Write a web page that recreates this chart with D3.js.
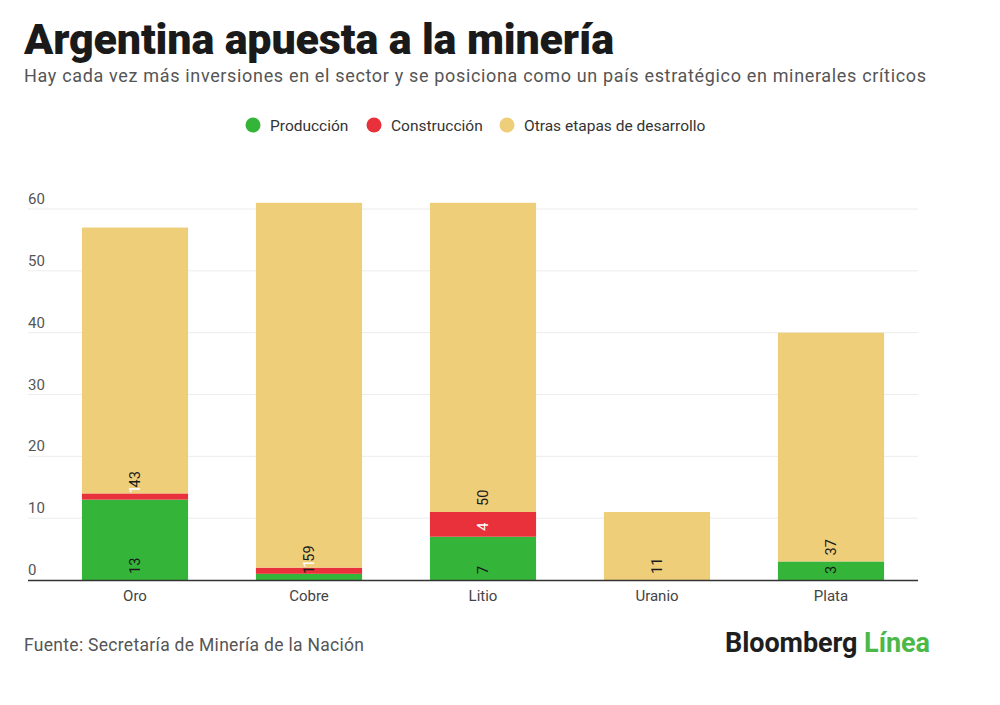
<!DOCTYPE html>
<html>
<head>
<meta charset="utf-8">
<script src="https://cdn.jsdelivr.net/npm/d3@7"></script>
<style>
  body { margin: 0; background: #fff; }
  svg { display: block; font-family: Roboto, "Noto Sans", sans-serif; }
</style>
</head>
<body>
<div id="wrapper"></div>
<script>
// data
const minerals = ["Oro", "Cobre", "Litio", "Uranio", "Plata"]
const produccion = [13, 1, 7, 0, 3]
const construccion = [1, 1, 4, 0, 0]
const otras = [43, 59, 50, 11, 37]
const yTicks = [0, 10, 20, 30, 40, 50, 60]
const seriesNames = ["Producción", "Construcción", "Otras etapas de desarrollo"]
const seriesColors = ["#35b43a", "#e8313a", "#efce7a"]
const labelColors = ["#1a1a1a", "#ffffff", "#1a1a1a"]

function drawChart() {
  const dims = { width: 1000, height: 705 }
  const plot = { left: 48, right: 918, axisLeft: 28, top: 209, bottom: 580 }

  const svg = d3.select("#wrapper")
    .append("svg")
      .attr("width", dims.width)
      .attr("height", dims.height)

  // rows for the stack
  const rows = minerals.map((m, i) => ({
    mineral: m,
    "Producción": produccion[i],
    "Construcción": construccion[i],
    "Otras etapas de desarrollo": otras[i],
  }))
  const stacked = d3.stack().keys(seriesNames)(rows)

  const xScale = d3.scaleBand()
    .domain(minerals)
    .range([plot.left, plot.right])
    .paddingInner(0.39)
    .paddingOuter(0.195)

  const yScale = d3.scaleLinear()
    .domain([0, 60])
    .range([plot.bottom, plot.top])

  // squeeze/stretch text to the width it has in the picture
  const fit = (sel, target) => {
    const n = sel.text().length
    const w = sel.node().getComputedTextLength()
    sel.attr("letter-spacing", (target - w) / (n - 1))
  }
  const title = svg.append("text")
    .attr("x", 24).attr("y", 54)
    .attr("font-size", 43)
    .attr("font-weight", 900)
    .attr("fill", "#1a1a1a")
    .text("Argentina apuesta a la minería")
  fit(title, 590)

  const subtitle = svg.append("text")
    .attr("x", 24).attr("y", 82)
    .attr("font-size", 18)
    .attr("fill", "#555")
    .text("Hay cada vez más inversiones en el sector y se posiciona como un país estratégico en minerales críticos")
  fit(subtitle, 902)

  // legend
  const legendX = [253, 374, 507]
  const legend = svg.append("g")
  seriesNames.forEach((name, i) => {
    legend.append("circle")
      .attr("cx", legendX[i]).attr("cy", 125).attr("r", 7.5)
      .attr("fill", seriesColors[i])
    legend.append("text")
      .attr("x", legendX[i] + 17).attr("y", 130.5)
      .attr("font-size", 15.5)
      .attr("fill", "#333")
      .text(name)
  })

  // gridlines + y tick labels
  const grid = svg.append("g")
  grid.selectAll("line")
    .data(yTicks.filter(t => t > 0))
    .join("line")
      .attr("x1", plot.axisLeft).attr("x2", plot.right)
      .attr("y1", d => yScale(d)).attr("y2", d => yScale(d))
      .attr("stroke", "#ececec")
      .attr("stroke-width", 1)
  grid.selectAll("text")
    .data(yTicks)
    .join("text")
      .attr("x", plot.axisLeft)
      .attr("y", d => yScale(d) - 5)
      .attr("font-size", 15)
      .attr("fill", "#555")
      .text(d => d)

  // bars
  const bars = svg.append("g")
  stacked.forEach((layer, k) => {
    bars.append("g")
      .attr("fill", seriesColors[k])
      .selectAll("rect")
      .data(layer)
      .join("rect")
        .attr("x", d => xScale(d.data.mineral))
        .attr("width", xScale.bandwidth())
        .attr("y", d => yScale(d[1]))
        .attr("height", d => yScale(d[0]) - yScale(d[1]))
  })

  // rotated value labels, anchored at the base of each segment
  const labels = svg.append("g")
  stacked.forEach((layer, k) => {
    labels.append("g")
      .selectAll("text")
      .data(layer.filter(d => d[1] - d[0] > 0))
      .join("text")
        .attr("transform", d => {
          const cx = xScale(d.data.mineral) + xScale.bandwidth() / 2
          return `translate(${cx},${yScale(d[0]) - 6}) rotate(-90)`
        })
        .attr("dy", "0.36em")
        .attr("font-size", 14.5)
        .attr("fill", labelColors[k])
        .text(d => d[1] - d[0])
  })

  // x axis
  const xAxisGenerator = d3.axisBottom()
    .scale(xScale)
    .tickSize(0)
    .tickPadding(10)

  const xAxis = svg.append("g")
    .attr("transform", `translate(0,${plot.bottom})`)
    .call(xAxisGenerator)
  xAxis.select(".domain").remove()
  xAxis.selectAll("text")
    .attr("font-size", 15)
    .attr("font-family", "Roboto, sans-serif")
    .attr("fill", "#444")
  svg.append("line")
    .attr("x1", plot.axisLeft).attr("x2", plot.right)
    .attr("y1", plot.bottom + 0.5).attr("y2", plot.bottom + 0.5)
    .attr("stroke", "#333")
    .attr("stroke-width", 1.5)

  // footer
  const source = svg.append("text")
    .attr("x", 24).attr("y", 651)
    .attr("font-size", 17.5)
    .attr("fill", "#555")
    .text("Fuente: Secretaría de Minería de la Nación")
  fit(source, 340)

  const logo = svg.append("text")
    .attr("x", 725).attr("y", 652)
    .attr("font-size", 27)
    .attr("font-weight", 700)
  logo.append("tspan").attr("fill", "#1e1e1e").text("Bloomberg ")
  logo.append("tspan").attr("fill", "#4cb848").text("Línea")
  fit(logo, 205)
}

drawChart()
</script>
</body>
</html>
